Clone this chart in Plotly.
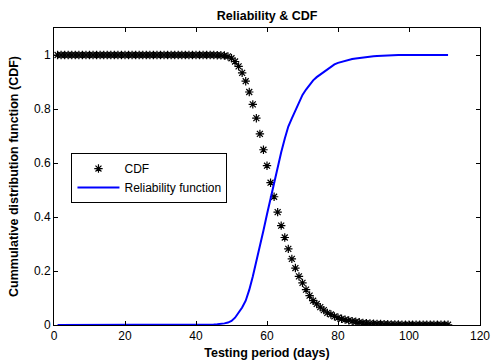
import plotly.graph_objects as go

days = list(range(1, 112))

cdf_points = [
    1.0, 1.0, 1.0, 1.0, 1.0, 1.0, 1.0, 1.0, 1.0, 1.0,
    1.0, 1.0, 1.0, 1.0, 1.0, 1.0, 1.0, 1.0, 1.0, 1.0,
    1.0, 1.0, 1.0, 1.0, 1.0, 1.0, 1.0, 1.0, 1.0, 1.0,
    1.0, 1.0, 1.0, 1.0, 1.0, 1.0, 1.0, 1.0, 1.0, 1.0,
    1.0, 1.0, 1.0, 1.0, 1.0,
    0.999, 0.999, 0.998, 0.995, 0.988, 0.976, 0.958, 0.934, 0.903, 0.863,
    0.817, 0.766, 0.708, 0.649, 0.590, 0.527, 0.475, 0.418, 0.368, 0.324,
    0.282, 0.245, 0.211, 0.180, 0.156, 0.131, 0.109, 0.090, 0.078, 0.066,
    0.055, 0.045, 0.039, 0.032, 0.027, 0.023, 0.020, 0.017, 0.014, 0.012,
    0.010, 0.008, 0.007, 0.006, 0.005, 0.004, 0.004, 0.003, 0.003, 0.002,
    0.002, 0.002,
    0.001, 0.001, 0.001, 0.001, 0.001, 0.001, 0.001, 0.001, 0.001, 0.001,
    0.001, 0.001, 0.001, 0.001,
]

reliability = [
    0.0, 0.0, 0.0, 0.0, 0.0, 0.0, 0.0, 0.0, 0.0, 0.0,
    0.0, 0.0, 0.0, 0.0, 0.0, 0.0, 0.0, 0.0, 0.0, 0.0,
    0.0, 0.0, 0.0, 0.0, 0.0, 0.0, 0.0, 0.0, 0.0, 0.0,
    0.0, 0.0, 0.0, 0.0, 0.0,
    0.001, 0.001, 0.001, 0.001, 0.001, 0.001, 0.001, 0.001, 0.001,
    0.002, 0.003, 0.004, 0.006, 0.009, 0.015, 0.027, 0.045, 0.065, 0.09,
    0.13, 0.18, 0.235, 0.288, 0.35, 0.41, 0.47, 0.53, 0.59, 0.64,
    0.69, 0.735, 0.765, 0.795, 0.825, 0.852, 0.872, 0.89, 0.906, 0.918,
    0.928, 0.938, 0.948, 0.958, 0.965, 0.971, 0.975, 0.979, 0.982, 0.985,
    0.987, 0.989, 0.991, 0.993, 0.994, 0.995, 0.996, 0.997, 0.998, 0.998,
    0.999,
    1.0, 1.0, 1.0, 1.0, 1.0, 1.0, 1.0, 1.0, 1.0, 1.0,
    1.0, 1.0, 1.0, 1.0, 1.0, 1.0,
]

x_ticks = [0, 20, 40, 60, 80, 100, 120]
y_ticks = [0, 0.2, 0.4, 0.6, 0.8, 1]
y_tick_labels = ["0", "0.2", "0.4", "0.6", "0.8", "1"]

assert len(days) == len(cdf_points) == len(reliability)

FONT = "Liberation Sans, Arial, sans-serif"
BOLD_SIZE = 12.5
TEXT_SIZE = 12

fig = go.Figure()
fig.add_trace(go.Scatter(
    x=days, y=cdf_points, mode="markers", name="CDF",
    marker=dict(symbol="asterisk-open", size=7, color="black",
                line=dict(color="black", width=1.2)),
))
fig.add_trace(go.Scatter(
    x=days, y=reliability, mode="lines", name="Reliability function",
    line=dict(color="#0000ff", width=2),
))

axis_common = dict(
    showline=True, linecolor="black", linewidth=1, mirror="ticks",
    ticks="inside", ticklen=4, tickcolor="black", tickwidth=1,
    showgrid=False, zeroline=False,
    tickfont=dict(family=FONT, size=TEXT_SIZE, color="black"),
)

fig.update_layout(
    width=492, height=360,
    margin=dict(l=54, r=12, t=28, b=35, autoexpand=False),
    paper_bgcolor="white", plot_bgcolor="white",
    font=dict(family=FONT, size=TEXT_SIZE, color="black"),
    title=dict(text="<b>Reliability & CDF</b>", x=0.543, xanchor="center",
               y=1 - 16 / 360, yanchor="middle",
               font=dict(family=FONT, size=BOLD_SIZE, color="black")),
    xaxis=dict(range=[0, 120], tickvals=x_ticks,
               title=dict(text="<b>Testing period (days)</b>", standoff=5,
                          font=dict(family=FONT, size=BOLD_SIZE, color="black")),
               **axis_common),
    yaxis=dict(range=[0, 1.1], tickvals=y_ticks, ticktext=y_tick_labels,
               title=dict(text="<b>Cummulative distribution function (CDF)</b>",
                          standoff=12,
                          font=dict(family=FONT, size=BOLD_SIZE, color="black")),
               **axis_common),
    legend=dict(x=0.041, y=0.579, xanchor="left", yanchor="top",
                bordercolor="black", borderwidth=1, bgcolor="white",
                font=dict(family=FONT, size=TEXT_SIZE, color="black"),
                tracegroupgap=0, itemwidth=42),
    showlegend=True,
)

fig.write_html("out.html")
